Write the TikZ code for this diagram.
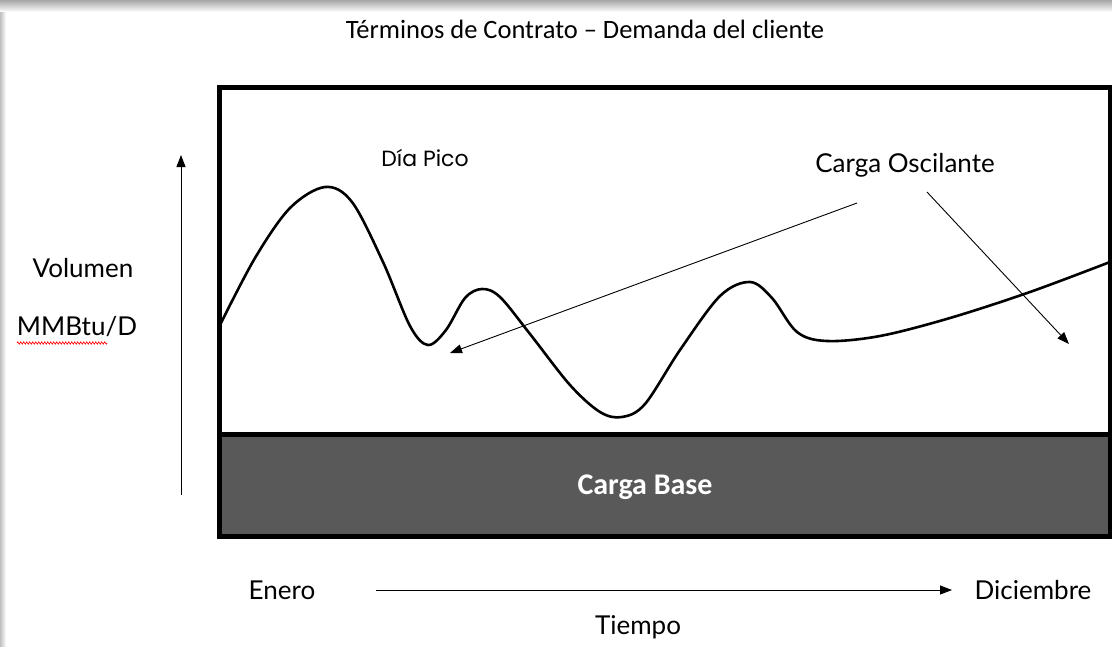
\documentclass[tikz,border=0pt]{standalone}
\usepackage{fontspec}
\setmainfont{Carlito}
\newfontfamily\comic{Lato}
\newfontfamily\gothic{Poppins}
\usetikzlibrary{arrows.meta,decorations.pathmorphing}
\definecolor{basegray}{HTML}{595959}
\tikzset{
  lbl/.style={font=\comic\fontsize{26}{28}\selectfont, inner sep=0pt},
  thinarrow/.style={line width=0.9pt, -{Triangle[length=12pt,width=9pt]}},
  curve/.style={line width=2.6pt, line join=round, line cap=round},
}
\begin{document}
\begin{tikzpicture}[x=1pt,y=-1pt]
\useasboundingbox (0,0) rectangle (1112,646);
\fill[white] (0,0) rectangle (1112,646);
% screenshot shadow
\shade[top color=gray!70, bottom color=white] (0,0) rectangle (1112,12);
\shade[left color=gray!50, right color=white] (0,12) rectangle (6,646);
% title
\node[font=\fontsize{26.5}{28}\selectfont, inner sep=0pt] (title) at (585,29) {Términos de Contrato – Demanda del cliente};
% base load band
\fill[basegray] (219,435) rectangle (1110,536);
\node[font=\bfseries\fontsize{30}{32}\selectfont, text=white, inner sep=0pt] (base) at (645,487) {Carga Base};
% outer box
\draw[line width=5pt] (219,87) rectangle (1110,536);
\draw[line width=5pt] (219,434) -- (1110,434);
% demand curve
\draw[curve] plot[smooth, tension=0.55] coordinates {
 (220,325) (255,258) (290,208) (325,187) (352,202) (383,262) (410,326) (428,345)
 (446,330) (465,298) (482,289) (500,297) (530,334) (570,385) (600,412) (622,417)
 (645,404) (680,350) (720,296) (750,282) (772,298) (797,332) (827,341) (880,336)
 (950,318) (1030,292) (1110,262)};
% labels
\node[font=\gothic\fontsize{22}{24}\selectfont, inner sep=0pt] (pico) at (425,158) {Día Pico};
\node[lbl] (osc) at (905,165) {Carga Oscilante};
\coordinate (a1s) at (857,203);
\coordinate (a1e) at (450,353);
\coordinate (a2s) at (927,192);
\coordinate (a2e) at (1069,344);
\draw[thinarrow] (a1s) -- (a1e);
\draw[thinarrow] (a2s) -- (a2e);
% y axis
\coordinate (ybot) at (181,495);
\coordinate (ytop) at (181,155);
\draw[thinarrow] (ybot) -- (ytop);
\node[lbl] (vol) at (83,268) {Volumen};
\node[lbl] (mmb) at (77,327) {MMBtu/D};
\draw[red, line width=0.6pt, decorate, decoration={zigzag, amplitude=1.2pt, segment length=3pt}] (17,343) -- (107,343);
% x axis
\node[lbl] (ene) at (282,590) {Enero};
\node[lbl] (dic) at (1033,590) {Diciembre};
\node[lbl] (tiempo) at (638,627) {Tiempo};
\coordinate (xs) at (376,590);
\coordinate (xe) at (952,590);
\draw[thinarrow] (xs) -- (xe);
\end{tikzpicture}
\end{document}
